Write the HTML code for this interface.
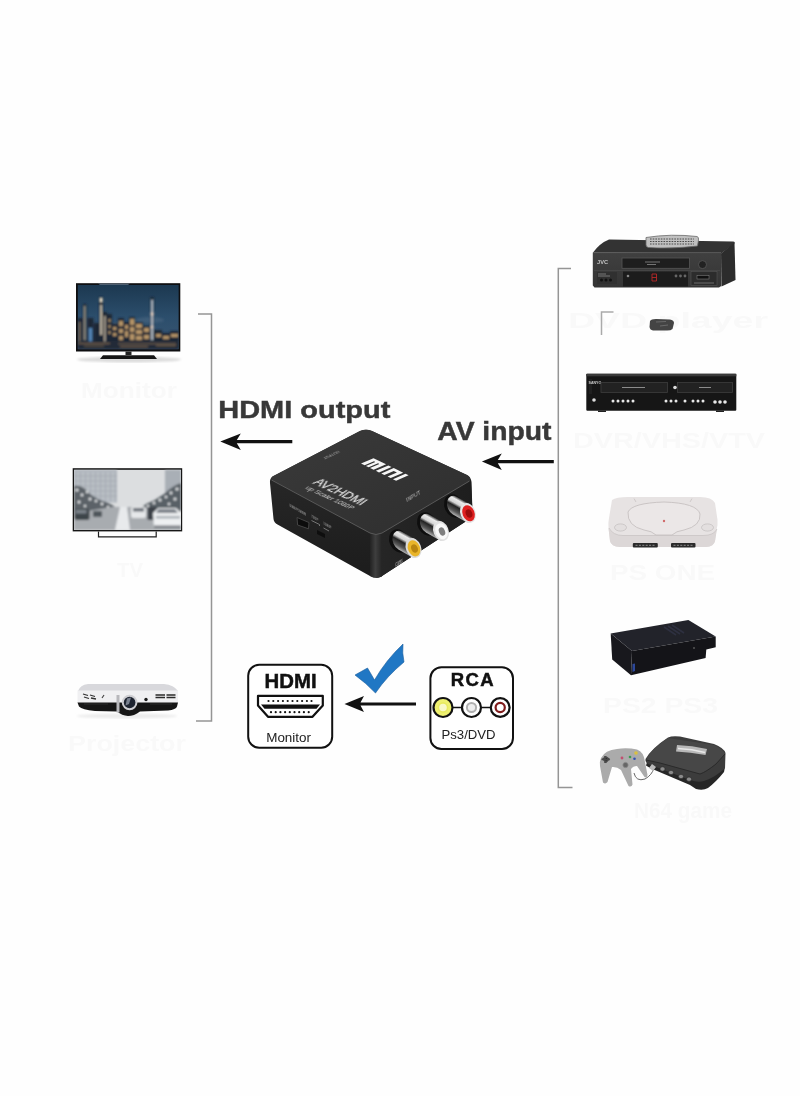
<!DOCTYPE html>
<html><head><meta charset="utf-8">
<style>
html,body{margin:0;padding:0;background:#fff;}
body{width:800px;height:1096px;overflow:hidden;position:relative;font-family:"Liberation Sans",sans-serif;}
svg{position:absolute;left:0;top:0;}
svg text{will-change:transform;}
</style></head>
<body>
<svg width="800" height="1096" viewBox="0 0 800 1096" font-family="Liberation Sans, sans-serif">
<rect width="800" height="1096" fill="#fefefe"/>
<!-- ghost labels -->
<g fill="#f9f9f9" font-weight="bold" font-size="22">
<text x="81" y="398" textLength="96" lengthAdjust="spacingAndGlyphs">Monitor</text>
<text x="117" y="577" font-size="20" textLength="26" lengthAdjust="spacingAndGlyphs">TV</text>
<text x="68" y="751" textLength="118" lengthAdjust="spacingAndGlyphs">Projector</text>
<text x="568" y="328" textLength="200" lengthAdjust="spacingAndGlyphs">DVD player</text>
<text x="573" y="448" textLength="192" lengthAdjust="spacingAndGlyphs">DVR/VHS/VTV</text>
<text x="610" y="580" textLength="105" lengthAdjust="spacingAndGlyphs">PS ONE</text>
<text x="603" y="713" textLength="115" lengthAdjust="spacingAndGlyphs">PS2 PS3</text>
<text x="634" y="818" textLength="98" lengthAdjust="spacingAndGlyphs">N64 game</text>
</g>
<!-- brackets -->
<g fill="none" stroke="#959595" stroke-width="1.5">
<path d="M198,314 H211.5 V721 H196"/>
<path d="M571,268.5 H558.3 V787.5 H572.5"/>
<path d="M613.5,312 H601.5 V335" stroke="#aaa"/>
</g>
<!-- labels -->
<text x="218.3" y="418" font-size="24.5" font-weight="bold" fill="#383838" stroke="#383838" stroke-width="0.45" textLength="172" lengthAdjust="spacingAndGlyphs">HDMI output</text>
<text x="437.3" y="440" font-size="25" font-weight="bold" fill="#383838" stroke="#383838" stroke-width="0.45" textLength="114.2" lengthAdjust="spacingAndGlyphs">AV input</text>
<!-- arrows -->
<g fill="#111">
<path d="M220.3,441.6 L240.8,433.5 L236.8,440 H292.3 V443.2 H236.8 L240.8,450 Z"/>
<path d="M481.9,461.6 L501.8,453.5 L497.8,460.1 H553.8 V463.2 H497.8 L501.8,470 Z"/>
<path d="M344.5,704 L364,696 L360.5,702.5 H416 V705.5 H360.5 L364,712 Z"/>
</g>
<!-- HDMI box -->
<rect x="248.2" y="664.7" width="84" height="83" rx="11" fill="#fff" stroke="#111" stroke-width="2"/>
<text x="264.6" y="688.1" font-size="20.8" font-weight="bold" fill="#111" stroke="#111" stroke-width="0.5" textLength="52" lengthAdjust="spacingAndGlyphs">HDMI</text>
<path d="M258,695.8 H322.8 V705.5 L312.5,716.8 H268 L258,705.5 Z" fill="#fff" stroke="#111" stroke-width="2.2" stroke-linejoin="round"/>
<path d="M261,704.5 H320 L316.5,708.8 H264.5 Z" fill="#111"/>
<g fill="#111">
<circle cx="268.5" cy="701" r="1.1"/><circle cx="273.3" cy="701" r="1.1"/><circle cx="278.1" cy="701" r="1.1"/><circle cx="282.9" cy="701" r="1.1"/><circle cx="287.7" cy="701" r="1.1"/><circle cx="292.5" cy="701" r="1.1"/><circle cx="297.3" cy="701" r="1.1"/><circle cx="302.1" cy="701" r="1.1"/><circle cx="306.9" cy="701" r="1.1"/><circle cx="311.5" cy="701" r="1.1"/>
<circle cx="271" cy="712.2" r="1.1"/><circle cx="275.7" cy="712.2" r="1.1"/><circle cx="280.4" cy="712.2" r="1.1"/><circle cx="285.1" cy="712.2" r="1.1"/><circle cx="289.8" cy="712.2" r="1.1"/><circle cx="294.5" cy="712.2" r="1.1"/><circle cx="299.2" cy="712.2" r="1.1"/><circle cx="303.9" cy="712.2" r="1.1"/><circle cx="308.7" cy="712.2" r="1.1"/>
</g>
<text x="266.2" y="741.9" font-size="12.2" fill="#222" textLength="44.8" lengthAdjust="spacingAndGlyphs">Monitor</text>
<!-- RCA box -->
<rect x="430.4" y="667.2" width="82.6" height="81.8" rx="11" fill="#fff" stroke="#111" stroke-width="2"/>
<text x="450.8" y="686.3" font-size="18.5" font-weight="bold" fill="#111" stroke="#111" stroke-width="0.5" textLength="42.8" lengthAdjust="spacing">RCA</text>
<path d="M453,707.5 H461 M482,707.5 H490" stroke="#111" stroke-width="1.6"/>
<circle cx="443" cy="707.5" r="9.5" fill="#eef070" stroke="#111" stroke-width="2.2"/>
<circle cx="443" cy="707.5" r="4.6" fill="#f8f8c8" stroke="#e8ea60" stroke-width="1.6"/>
<circle cx="471.5" cy="707.5" r="9.5" fill="#fff" stroke="#111" stroke-width="2.2"/>
<circle cx="471.5" cy="707.5" r="4.6" fill="#eeeeee" stroke="#b0b0b0" stroke-width="2"/>
<circle cx="500.2" cy="707.5" r="9.4" fill="#fff" stroke="#111" stroke-width="2.2"/>
<circle cx="500.2" cy="707.5" r="4.6" fill="#fff" stroke="#801c1c" stroke-width="2.2"/>
<text x="441.5" y="738.5" font-size="12.4" fill="#222" textLength="54.1" lengthAdjust="spacingAndGlyphs">Ps3/DVD</text>


<!-- LEFT DEVICES -->
<defs>
<filter id="soft" x="-5%" y="-5%" width="110%" height="110%"><feGaussianBlur stdDeviation="0.8"/></filter>
<linearGradient id="sky1" x1="0" y1="0" x2="0" y2="1">
<stop offset="0" stop-color="#1c3850"/><stop offset="0.5" stop-color="#2c4e6c"/><stop offset="1" stop-color="#3a5672"/>
</linearGradient>
<linearGradient id="tvshadow" x1="0" y1="0" x2="0" y2="1">
<stop offset="0" stop-color="#d8d8d8"/><stop offset="1" stop-color="#fafafa"/>
</linearGradient>
<linearGradient id="sky2" x1="0" y1="0" x2="0" y2="1">
<stop offset="0" stop-color="#d6d8dc"/><stop offset="1" stop-color="#c8cace"/>
</linearGradient>
</defs>
<g id="tv1">
<ellipse cx="129" cy="359.5" rx="52" ry="3" fill="#dcdcdc" filter="url(#soft)"/>
<rect x="76" y="283.2" width="104.3" height="68.3" fill="#0e0e10"/>
<svg x="77.6" y="284.8" width="101.2" height="64.6" viewBox="77.6 284.8 101.2 64.6">
<rect x="77.6" y="284.8" width="101.2" height="64.6" fill="url(#sky1)"/>
<g filter="url(#soft)">
<ellipse cx="150" cy="320" rx="14" ry="3" fill="#4a6680" opacity="0.6"/>
<ellipse cx="125" cy="334" rx="28" ry="11" fill="#7a6450" opacity="0.5"/>
<g fill="#1e2836">
<rect x="77.6" y="318" width="5" height="28"/>
<rect x="83" y="304" width="3.5" height="42"/>
<rect x="87.5" y="318" width="6" height="28"/>
<rect x="94" y="323" width="5" height="23"/>
<rect x="99" y="297" width="4" height="49"/>
<rect x="103" y="312" width="4" height="34"/>
<rect x="107" y="314" width="5" height="32"/>
<rect x="112" y="324" width="6" height="22"/>
<rect x="118" y="318" width="6" height="28"/>
<rect x="124" y="322" width="5" height="24"/>
<rect x="129" y="317" width="6" height="29"/>
<rect x="135" y="322" width="8" height="24"/>
<rect x="143" y="326" width="7" height="20"/>
<rect x="150.5" y="297" width="3.2" height="49"/>
<rect x="154" y="330" width="8" height="16"/>
<rect x="162" y="333" width="8" height="13"/>
<rect x="170" y="331" width="9" height="15"/>
</g>
<g>
<rect x="99.8" y="298" width="2.6" height="4" fill="#f4e8d0"/>
<rect x="100.2" y="305" width="1.8" height="30" fill="#d0c4b0"/>
<rect x="84" y="306" width="1.4" height="34" fill="#a8a090"/>
<rect x="78.5" y="322" width="2" height="20" fill="#a08868" opacity="0.7"/>
<rect x="89" y="328" width="3" height="14" fill="#5a90c8" opacity="0.9"/>
<rect x="104" y="316" width="1.6" height="26" fill="#b8ac98"/>
<g fill="#e8b878" opacity="0.75">
<rect x="108.5" y="319" width="2" height="3"/><rect x="108.5" y="325" width="2" height="3"/><rect x="108.5" y="331" width="2" height="3"/>
<rect x="113" y="327" width="3.5" height="3"/><rect x="113" y="333" width="3.5" height="3"/>
<rect x="119" y="321" width="4" height="5"/><rect x="119" y="329" width="4" height="4"/><rect x="119" y="336" width="4" height="4"/>
<rect x="125" y="325" width="3" height="4"/><rect x="125" y="331" width="3" height="6"/>
<rect x="130" y="319" width="4.5" height="6"/><rect x="130" y="327" width="4.5" height="5"/><rect x="130" y="334" width="4.5" height="6"/>
<rect x="136" y="324" width="6" height="4"/><rect x="136" y="330" width="6" height="4"/><rect x="136" y="336" width="6" height="4"/>
<rect x="144" y="328" width="5" height="4"/><rect x="144" y="335" width="5" height="4"/>
<rect x="156" y="334" width="5" height="3"/><rect x="163" y="336" width="6" height="3"/><rect x="171" y="334" width="7" height="3"/>
</g>
<rect x="151.3" y="300" width="1.6" height="40" fill="#d8dce4"/>
<circle cx="152.1" cy="314" r="1.7" fill="#f0d8c8"/>
<circle cx="152.1" cy="327" r="1.5" fill="#f0d8c8"/>
</g>
<rect x="77.6" y="341.5" width="101.2" height="7.9" fill="#242c38"/>
<path d="M78,343.5 H110 M118,343.8 H176 M84,346 H104 M120,346.5 H148 M156,345.5 H176" stroke="#b08858" stroke-width="1.1" opacity="0.6"/>
</g>
</svg>
<path d="M98,283.6 L130,283.6 L128,284.9 L100,284.9 Z" fill="#6a8098" opacity="0.7"/>
<rect x="125.5" y="351.5" width="6" height="3.5" fill="#222"/>
<path d="M100,359 L103,355.3 H154 L157,359 Z" fill="#151515"/>
</g>

<g id="tv2">
<rect x="72.7" y="468.2" width="109.5" height="63.2" fill="#161616"/>
<svg x="74" y="469.6" width="107" height="60.4" viewBox="74 469.6 107 60.4">
<rect x="74" y="469.6" width="107" height="60.4" fill="#dcdee0"/>
<g filter="url(#soft)">
<rect x="74" y="469.6" width="43" height="33" fill="#b0b6bd"/>
<path d="M78,472 V502 M83,472 V502 M88,472 V502 M93,472 V502 M98,472 V502 M103,472 V502 M108,472 V502 M113,472 V502" stroke="#c4c9ce" stroke-width="1.3"/>
<path d="M74,476 H117 M74,481 H117 M74,486 H117 M74,491 H117 M74,496 H117" stroke="#9ca3aa" stroke-width="0.6"/>
<rect x="165" y="469.6" width="16" height="23" fill="#a9afb6"/>
<path d="M74,486 Q82,484 90,494 Q98,500 106,502 Q114,505 118,510 L74,516 Z" fill="#5c6268"/>
<path d="M181,483 Q172,486 164,494 Q156,500 146,504 L136,512 H181 Z" fill="#596066"/>
<g fill="#e6e8ea">
<circle cx="77" cy="490" r="1.6"/><circle cx="82" cy="495" r="1.4"/><circle cx="87" cy="492" r="1.2"/><circle cx="90" cy="499" r="1.5"/><circle cx="96" cy="501" r="1.3"/><circle cx="102" cy="504" r="1.4"/><circle cx="79" cy="502" r="1.5"/><circle cx="85" cy="506" r="1.2"/><circle cx="108" cy="507" r="1.2"/>
<circle cx="177" cy="489" r="1.6"/><circle cx="171" cy="493" r="1.4"/><circle cx="166" cy="497" r="1.3"/><circle cx="160" cy="500" r="1.5"/><circle cx="154" cy="503" r="1.3"/><circle cx="148" cy="506" r="1.2"/><circle cx="175" cy="499" r="1.5"/><circle cx="169" cy="504" r="1.3"/>
</g>
<path d="M74,513 L112,507 H142 L181,513 V530 H74 Z" fill="#a8acb0"/>
<path d="M120,507 L115,530 H130 L127,507 Z" fill="#e8eaec"/>
<rect x="74.5" y="509" width="15" height="11" rx="2" fill="#3e444a"/>
<rect x="75.5" y="510" width="11" height="3.5" fill="#7c838a"/>
<rect x="93" y="511" width="9" height="6" rx="1" fill="#50565c"/>
<rect x="131" y="507" width="15" height="11" rx="2" fill="#e6e8ea"/>
<rect x="133" y="508" width="11" height="3.5" fill="#6a7078"/>
<rect x="147.5" y="507" width="10" height="13" rx="1.5" fill="#3a4046"/>
<path d="M153,513 L158,508 H176 L181.5,513 V528.5 H154 Z" fill="#eef0f2"/>
<path d="M158.5,509 H175 L178,513 H156 Z" fill="#7a8088"/>
<rect x="156" y="516" width="24" height="2.5" fill="#aab0b6"/>
<rect x="154" y="525.5" width="27" height="3" fill="#7c8086"/>
</g>
</svg>
<path d="M98.5,531.4 V536.8 H156.2 V531.4" fill="none" stroke="#1e1e1e" stroke-width="1.2"/>
</g>

<g id="projector">
<ellipse cx="127" cy="716" rx="50" ry="2.5" fill="#ececec" filter="url(#soft)"/>
<path d="M78,691 Q80,685 88,684 H164 Q174,685 178,691 Z" fill="#d8d8dc"/>
<path d="M77.5,690.5 H178 V703 H77.5 Z" fill="#f0f0f2"/>
<path d="M77.5,702.5 H178 L177,706.5 Q176,709.5 168,710.5 L140,711.5 Q134,716 128,716 Q122,715.5 117,711.5 L95,711 Q82,709.5 79,706.5 Z" fill="#161616"/>
<path d="M116.5,695 H119.5 V712.5 H116.5 Z" fill="#b8b8bc"/>
<circle cx="129.6" cy="702.5" r="7.8" fill="#cfcfd3"/>
<circle cx="129.6" cy="702.5" r="5.8" fill="#1e2430"/>
<path d="M127,698.5 L131,697.5 L129,704 L125.5,705.5 Z" fill="#9098a8" opacity="0.8"/>
<path d="M83,694 L88,695.5 M90,695 L95,696.5 M84,697 L89,698.5 M91,698 L96,699" stroke="#333" stroke-width="1.3"/>
<path d="M102,698 L104,695" stroke="#444" stroke-width="1.2"/>
<circle cx="146" cy="699.5" r="1.7" fill="#1a1a1a"/>
<path d="M155.5,695 H165 M155.5,697.5 H165 M166.5,695 H175.5 M166.5,697.5 H175.5" stroke="#2a2a2a" stroke-width="1.3"/>
<path d="M84,704 H108 M150,704 H172" stroke="#333" stroke-width="0.8"/>
</g>

<!-- RIGHT DEVICES -->
<defs>
<linearGradient id="vcrtop" x1="0" y1="0" x2="0" y2="1"><stop offset="0" stop-color="#4a4a4a"/><stop offset="1" stop-color="#2e2e2e"/></linearGradient>
<linearGradient id="vcrfront" x1="0" y1="0" x2="0" y2="1"><stop offset="0" stop-color="#404040"/><stop offset="1" stop-color="#343434"/></linearGradient>
</defs>
<g id="vcr">
<path d="M593,252.5 Q600,243 609,239.5 L733,241.5 Q736,242 734,244 L721,253.5 Z" fill="#333"/>
<path d="M721,253.5 L734.5,242.5 L735.5,280 L721.5,286.5 Z" fill="#2c2c2c"/>
<path d="M592.8,252.4 H721.3 V286 L719,287.5 H594.5 L592.8,285.5 Z" fill="url(#vcrfront)"/>
<path d="M593,252.6 H721" stroke="#5c5c5c" stroke-width="0.9"/>
<rect x="622" y="258" width="67.5" height="10.3" fill="#1e1e1e" stroke="#565656" stroke-width="0.8"/>
<path d="M645,262 H660 M647,264.5 H656" stroke="#9a9a9a" stroke-width="0.7"/>
<circle cx="702.5" cy="264.6" r="4" fill="#222" stroke="#5a5a5a" stroke-width="0.8"/>
<text x="597" y="263.5" font-size="5.2" font-weight="bold" fill="#c4c4c4" textLength="11" lengthAdjust="spacingAndGlyphs">JVC</text>
<path d="M594,270.5 H720" stroke="#4a4a4a" stroke-width="0.7"/>
<rect x="597" y="272" width="20" height="12" fill="#303030"/>
<path d="M598,274 H606 M598,276 H610" stroke="#9a9a9a" stroke-width="0.7"/>
<circle cx="601.5" cy="280" r="1.5" fill="#111"/><circle cx="606" cy="280" r="1.5" fill="#111"/><circle cx="610.5" cy="280" r="1.5" fill="#111"/>
<rect x="623" y="271.5" width="65" height="15" fill="#1c1c1c"/>
<path d="M652,274 V281 M656.5,274 V281 M652,274 H656.5 M652,277.5 H656.5 M652,281 H656.5" stroke="#b82828" stroke-width="0.9" fill="none"/>
<circle cx="628" cy="276" r="1.3" fill="#888"/>
<circle cx="676" cy="276" r="1.4" fill="#666"/><circle cx="680.5" cy="276" r="1.4" fill="#666"/><circle cx="685" cy="276" r="1.4" fill="#666"/>
<rect x="691" y="271.5" width="26" height="14" fill="#2c2c2c" stroke="#555" stroke-width="0.6"/>
<rect x="697" y="275.5" width="12" height="3.5" fill="#111" stroke="#888" stroke-width="0.5"/>
<path d="M694,283 H714" stroke="#888" stroke-width="0.7"/>
<path d="M646,237.5 Q671,233.5 697,236.5 Q699,237 698.5,240 L697.5,246 Q671,249 648.5,247.5 Q646,247 646,245 Z" fill="#c0c0c0" stroke="#6a6a6a" stroke-width="0.8"/>
<path d="M650,239 H694 M650,241.5 H694 M650,244 H694" stroke="#4a4a4a" stroke-width="1.1" stroke-dasharray="1.6 1.1"/>
</g>
<path d="M650,321 Q651,319 656,319 L670,319.5 Q674,320 674,323 L672.5,329 Q671,330.5 667,330.5 H653 Q650,330 649.5,327 Z" fill="#444"/>
<path d="M656,322 L666,321.5 M660,326 L668,325" stroke="#6a6a6a" stroke-width="1"/>

<g id="dvdvcr">
<rect x="586.3" y="373.8" width="150" height="37" rx="1" fill="#161616"/>
<rect x="586.3" y="373.8" width="150" height="2.5" fill="#3a3a3a"/>
<path d="M589,379 H592 V394 H589 Z" fill="#202020"/>
<text x="588.5" y="383.5" font-size="3.6" font-weight="bold" fill="#ccc">SANYO</text>
<rect x="601" y="382.5" width="66.5" height="10" fill="#222" stroke="#3e3e3e" stroke-width="0.8"/>
<path d="M622,387.5 H645" stroke="#999" stroke-width="0.9"/>
<circle cx="675" cy="387.5" r="1.8" fill="#ddd"/>
<rect x="677.5" y="382.5" width="55" height="10" fill="#222" stroke="#3e3e3e" stroke-width="0.8"/>
<path d="M699,387.5 H711" stroke="#999" stroke-width="0.9"/>
<circle cx="594" cy="400" r="1.8" fill="#ddd"/>
<g fill="#e8e8e8">
<circle cx="613" cy="401" r="1.5"/><circle cx="618" cy="401" r="1.5"/><circle cx="623" cy="401" r="1.5"/><circle cx="628" cy="401" r="1.5"/><circle cx="633" cy="401" r="1.5"/>
<circle cx="666" cy="401" r="1.5"/><circle cx="671" cy="401" r="1.5"/><circle cx="676" cy="401" r="1.5"/>
<circle cx="685" cy="401" r="1.5"/><circle cx="693" cy="401" r="1.5"/><circle cx="698" cy="401" r="1.5"/><circle cx="703" cy="401" r="1.5"/>
<circle cx="715" cy="402" r="1.8"/><circle cx="720" cy="402" r="1.8"/><circle cx="725" cy="402" r="1.8"/>
</g>
<rect x="598" y="410.5" width="8" height="1.5" fill="#222"/><rect x="716" y="410.5" width="8" height="1.5" fill="#222"/>
</g>

<g id="psone">
<path d="M612,500 Q616,497 628,497 H700 Q712,497 715,503 L717.5,520 Q718,524 716.5,530 L715,541 Q714,546.5 706,547 H620 Q611,546.5 610,541 L608.5,528 Q608,523 609,518 Z" fill="#e7e3e3"/>
<path d="M608.5,528 Q612,535 622,535.5 H704 Q715,535 717,529 L715,541 Q714,546.5 706,547 H620 Q611,546.5 610,541 Z" fill="#dcd7d7"/>
<path d="M609,528 Q613,535.5 623,535.5 H703 Q714,535.5 717,529" fill="none" stroke="#c9c4c4" stroke-width="0.8"/>
<path d="M628,512 Q632,503 664,502 Q697,503 700,514 Q701,526 684,530 Q676,531 672,535 H656 Q652,531 644,530 Q627,526 628,512 Z" fill="#ebe7e7" stroke="#c6c1c1" stroke-width="0.9"/>
<circle cx="664" cy="521" r="1.2" fill="#d06a6a"/>
<path d="M634,498.5 L636,502 M692,498.5 L690,502" stroke="#c8c3c3" stroke-width="0.8"/>
<ellipse cx="620.5" cy="527.5" rx="6" ry="3.6" fill="#e3dfdf" stroke="#c2bdbd" stroke-width="0.7"/>
<ellipse cx="707.5" cy="527.5" rx="6" ry="3.6" fill="#e3dfdf" stroke="#c2bdbd" stroke-width="0.7"/>
<rect x="632.8" y="543" width="25" height="4.6" rx="1" fill="#2a2a2a"/>
<rect x="671" y="543" width="24.5" height="4.6" rx="1" fill="#2a2a2a"/>
<path d="M635.5,545.3 H655 M673.5,545.3 H693" stroke="#999" stroke-width="0.9" stroke-dasharray="2 1.4"/>
</g>

<g id="ps2">
<path d="M610.7,633.6 L688.4,619.9 L715.7,636.4 L632,651 Z" fill="#22232a"/>
<path d="M632,651 L715.7,636.4 L715.7,647.2 L706.3,649.4 L705.6,658 L631,675.3 Z" fill="#141418"/>
<path d="M610.7,633.6 L632,651 L631,675.3 L612.2,659.4 Z" fill="#18181d"/>
<path d="M664,627 L676,635 M668,626 L680,634 M672,625 L684,633" stroke="#2e3040" stroke-width="1.6"/>
<circle cx="694" cy="648" r="1" fill="#555"/>
<path d="M632.5,664 L635,663.5 V671 L632.5,672 Z" fill="#3050b0" opacity="0.85"/>
</g>

<g id="n64">
<path d="M646,765.5 L648,759 L690,777 Q700,781 712,776 L725,767 L724,772 Q716,782 708,788 Q703,791 696,789 L690,785 L650,768 Z" fill="#262626"/>
<path d="M645.5,759 Q652,748 668,737.5 Q672,735.5 680,736.5 L714,744 Q724,748 725.5,753 L725,768 Q716,777 704,781 Q698,783 690,780 L648,764 Q645,762 645.5,759 Z" fill="#3c3c3c"/>
<path d="M646,760 Q650,750 668,738 L714,745 Q723,749 725,754 L716,764 Q706,772 700,774 L660,763 Z" fill="#474747"/>
<path d="M646,760 L660,763 L700,774 Q706,772 716,764 L725,754" fill="none" stroke="#2a2a2a" stroke-width="1"/>
<path d="M677,745 Q692,745.5 707,749 L705.5,755 Q690,752 676,751.5 Z" fill="#b8b8b8"/>
<path d="M678,748.5 Q692,749 705,752.5" stroke="#e8e8e8" stroke-width="1.5" fill="none"/>
<g fill="#8a8a8a" stroke="#222" stroke-width="0.6">
<ellipse cx="662.5" cy="769" rx="2.6" ry="2.2"/><ellipse cx="671" cy="772.5" rx="2.6" ry="2.2"/><ellipse cx="681" cy="776.5" rx="2.6" ry="2.2"/><ellipse cx="689" cy="779.2" rx="2.6" ry="2.2"/>
</g>
<path d="M601,758 Q605,750 617,749 Q627,747.5 637,749.5 Q644,752 645,762 L647.5,775 Q647,778.5 644.5,777 L637,766 Q633,766 631,769 L632.5,784.5 Q631.5,787.5 628.5,786 L621,770 Q617,766.5 612,767 L607.5,782 Q605.5,784.5 603,782.5 L600,766 Q599.5,761 601,758 Z" fill="#ababab"/>
<path d="M603,759 L606,757 L609,759 L606,762 Z M605,756 V763 M601.5,759.5 H610" stroke="#4a4a4a" stroke-width="1.6"/>
<circle cx="622" cy="758" r="1.4" fill="#c05070"/>
<circle cx="630" cy="757" r="1.3" fill="#3a9a50"/><circle cx="634.5" cy="758.8" r="1.3" fill="#3050b0"/><circle cx="636" cy="753" r="1.8" fill="#d8c040"/>
<circle cx="625.5" cy="765" r="2.6" fill="#666" stroke="#888" stroke-width="0.8"/>
<path d="M634,773 Q636,782 645,779 Q652,775 654,768" stroke="#666" stroke-width="1" fill="none"/>
<path d="M652,764 L656,767 L653,771 L649,768 Z" fill="#bbb"/>
</g>
<!-- central device -->
<defs>
<linearGradient id="chrome" x1="0.35" y1="0" x2="0.65" y2="1">
<stop offset="0" stop-color="#333"/><stop offset="0.15" stop-color="#ececec"/><stop offset="0.36" stop-color="#d4d4d4"/><stop offset="0.52" stop-color="#222"/><stop offset="0.8" stop-color="#5a5a5a"/><stop offset="1" stop-color="#b4b4b4"/>
</linearGradient>
<linearGradient id="chY" href="#chrome" gradientUnits="userSpaceOnUse" x1="415.4" y1="539.1" x2="406.9" y2="554.2"/>
<linearGradient id="chW" href="#chrome" gradientUnits="userSpaceOnUse" x1="442.9" y1="522.1" x2="434.4" y2="537.2"/>
<linearGradient id="chR" href="#chrome" gradientUnits="userSpaceOnUse" x1="469.9" y1="504.1" x2="461.4" y2="519.2"/>
<linearGradient id="topface" x1="0" y1="0" x2="1" y2="1">
<stop offset="0" stop-color="#3a3a3a"/><stop offset="1" stop-color="#2e2e2e"/>
</linearGradient>
</defs>
<g id="device">
<defs>
<linearGradient id="leftface" x1="0" y1="0" x2="0" y2="1"><stop offset="0" stop-color="#2c2c2c"/><stop offset="1" stop-color="#1c1c1c"/></linearGradient>
<linearGradient id="rightface" x1="0" y1="0" x2="1" y2="0"><stop offset="0" stop-color="#262626"/><stop offset="1" stop-color="#1e1e1e"/></linearGradient>
<linearGradient id="fcorner" x1="0" y1="0" x2="1" y2="0"><stop offset="0" stop-color="#222"/><stop offset="0.45" stop-color="#3e3e3e"/><stop offset="1" stop-color="#242424"/></linearGradient>
</defs>
<path d="M272.5,476.5 Q269.5,478.5 270,483 L273.5,519 Q274,522.5 277.5,524.5 L370,576 Q376,579 382,576 L468,520 Q472.5,517.5 472.5,513 L471.5,482 Q471,477 467,475 L372,431 Q366,428.5 360,431 Z" fill="url(#leftface)"/>
<path d="M376,535 L471,480 L472.5,513 Q472.5,517.5 468,520 L382,576 Q376,579 376,577 Z" fill="url(#rightface)"/>
<path d="M370,532 L382,532 L382,576.5 Q376,579.5 370,576 Z" fill="url(#fcorner)"/>
<path d="M272.5,476.5 L360,431 Q366,428.5 372,431 L467,475 Q471.5,477.5 469.5,481 L382,533 Q376,536 370,533 L272,480 Q270.5,478.5 272.5,476.5 Z" fill="url(#topface)"/>
<path d="M271.5,480 L370,533 Q376,536 382,533 L469.5,481" fill="none" stroke="#585858" stroke-width="1"/>
<!-- top texts -->
<text transform="matrix(0.909,0.417,-0.80,0.57,312.5,483)" font-size="13.5" fill="#dcdcdc" stroke="#dcdcdc" stroke-width="0.3" textLength="54" lengthAdjust="spacingAndGlyphs">AV2HDMI</text>
<text transform="matrix(0.909,0.417,-0.80,0.57,305,488.5)" font-size="7.5" fill="#c8c8c8" textLength="51" lengthAdjust="spacingAndGlyphs">up Scaler 1080P</text>
<path transform="matrix(0.90,0.44,-1.25,0.54,361,463.6)" fill="#f6f6f6" d="M0,0 V-10 H14 V0 H10 V-7.5 H8.5 V0 H5.5 V-7.5 H4 V0 Z M16.5,0 V-10 H20 V0 Z M22.5,0 V-10 H33 V0 H29.5 V-7.5 H26 V0 Z M35.5,0 V-10 H39 V0 Z"/>
<text transform="matrix(-0.906,0.423,-0.62,-0.50,338,450.5)" font-size="5" fill="#b0b0b0" textLength="17" lengthAdjust="spacingAndGlyphs">OUTPUT</text>
<text transform="matrix(0.86,-0.51,0.3,0.95,407,502)" font-size="5" fill="#b8b8b8" textLength="16" lengthAdjust="spacingAndGlyphs">INPUT</text>
<!-- left face details -->
<text transform="matrix(0.87,0.5,0,1,289.5,506.5)" font-size="4.2" font-weight="bold" fill="#8a8a8a" textLength="19" lengthAdjust="spacingAndGlyphs">USB/POWER</text><text transform="matrix(0.87,0.5,0,1,311.5,517.5)" font-size="4" font-weight="bold" fill="#8a8a8a" textLength="7.5" lengthAdjust="spacingAndGlyphs">720P</text><text transform="matrix(0.87,0.5,0,1,323.5,524.5)" font-size="4" font-weight="bold" fill="#8a8a8a" textLength="9" lengthAdjust="spacingAndGlyphs">1080P</text>
<path d="M297,517.5 L309,522.5 L308.5,528.8 L297.6,525 Z" fill="#0c0c0c" stroke="#4a4a4a" stroke-width="0.9"/>
<path d="M311.5,520.5 L319.5,524.5 V526 M323.5,528 L329,531" stroke="#8a8a8a" stroke-width="0.8" fill="none"/>
<path d="M317,530 L325,534 L325,538 L317,534 Z" fill="#0e0e0e"/>
<!-- RCA jacks -->
<g>
<ellipse cx="399" cy="541" rx="9.5" ry="12" transform="rotate(-25 399 541)" fill="#0e0e0e"/>
<path d="M402.4,531.7 L415.4,539.1 A7.6 10.3 -22 0 1 411.6,556.9 L398.5,549.6 A7.6 10.3 -22 0 1 402.4,531.7 Z" fill="url(#chY)"/>
<ellipse cx="413.5" cy="548" rx="7.6" ry="10.3" transform="rotate(-22 413.5 548)" fill="#dcdcdc"/>
<ellipse cx="414" cy="548.3" rx="6" ry="8.4" transform="rotate(-22 414 548.3)" fill="#e9b52a"/>
<ellipse cx="414.5" cy="548.5" rx="3.2" ry="4.4" transform="rotate(-22 414.5 548.5)" fill="#b98510"/>

<ellipse cx="427" cy="524" rx="9.5" ry="12" transform="rotate(-25 427 524)" fill="#0e0e0e"/>
<path d="M429.9,514.7 L442.9,522.1 A7.6 10.3 -22 0 1 439.1,539.9 L426.0,532.6 A7.6 10.3 -22 0 1 429.9,514.7 Z" fill="url(#chW)"/>
<ellipse cx="441" cy="531" rx="7.6" ry="10.3" transform="rotate(-22 441 531)" fill="#e2e2e2"/>
<ellipse cx="441.5" cy="531.3" rx="6" ry="8.2" transform="rotate(-22 441.5 531.3)" fill="#f8f8f8"/>
<ellipse cx="442" cy="531.5" rx="3" ry="4.3" transform="rotate(-22 442 531.5)" fill="#7e7e7e"/>

<ellipse cx="454" cy="506" rx="9.5" ry="12" transform="rotate(-25 454 506)" fill="#0e0e0e"/>
<path d="M456.9,496.7 L469.9,504.1 A7.6 10.3 -22 0 1 466.1,521.9 L453.0,514.6 A7.6 10.3 -22 0 1 456.9,496.7 Z" fill="url(#chR)"/>
<ellipse cx="468" cy="513" rx="7.6" ry="10.3" transform="rotate(-22 468 513)" fill="#e6e6e6"/>
<ellipse cx="468.5" cy="513.3" rx="6" ry="8.3" transform="rotate(-22 468.5 513.3)" fill="#de2020"/>
<ellipse cx="469" cy="513.5" rx="3.2" ry="4.4" transform="rotate(-22 469 513.5)" fill="#9c0c0c"/>
</g>
<text transform="matrix(0.86,-0.51,0,1,395,567)" font-size="4.5" fill="#aaa" textLength="9">CVBS</text>
</g>
<!-- checkmark -->
<path d="M355,675 L367.5,668 L374.5,680 Q386,660 403,644 Q402,653 404,662 Q387,676 375.5,693 Q366,683 355,675 Z" fill="#2077c4" stroke="#1a5c9c" stroke-width="0.6"/>
</svg>
</body></html>
